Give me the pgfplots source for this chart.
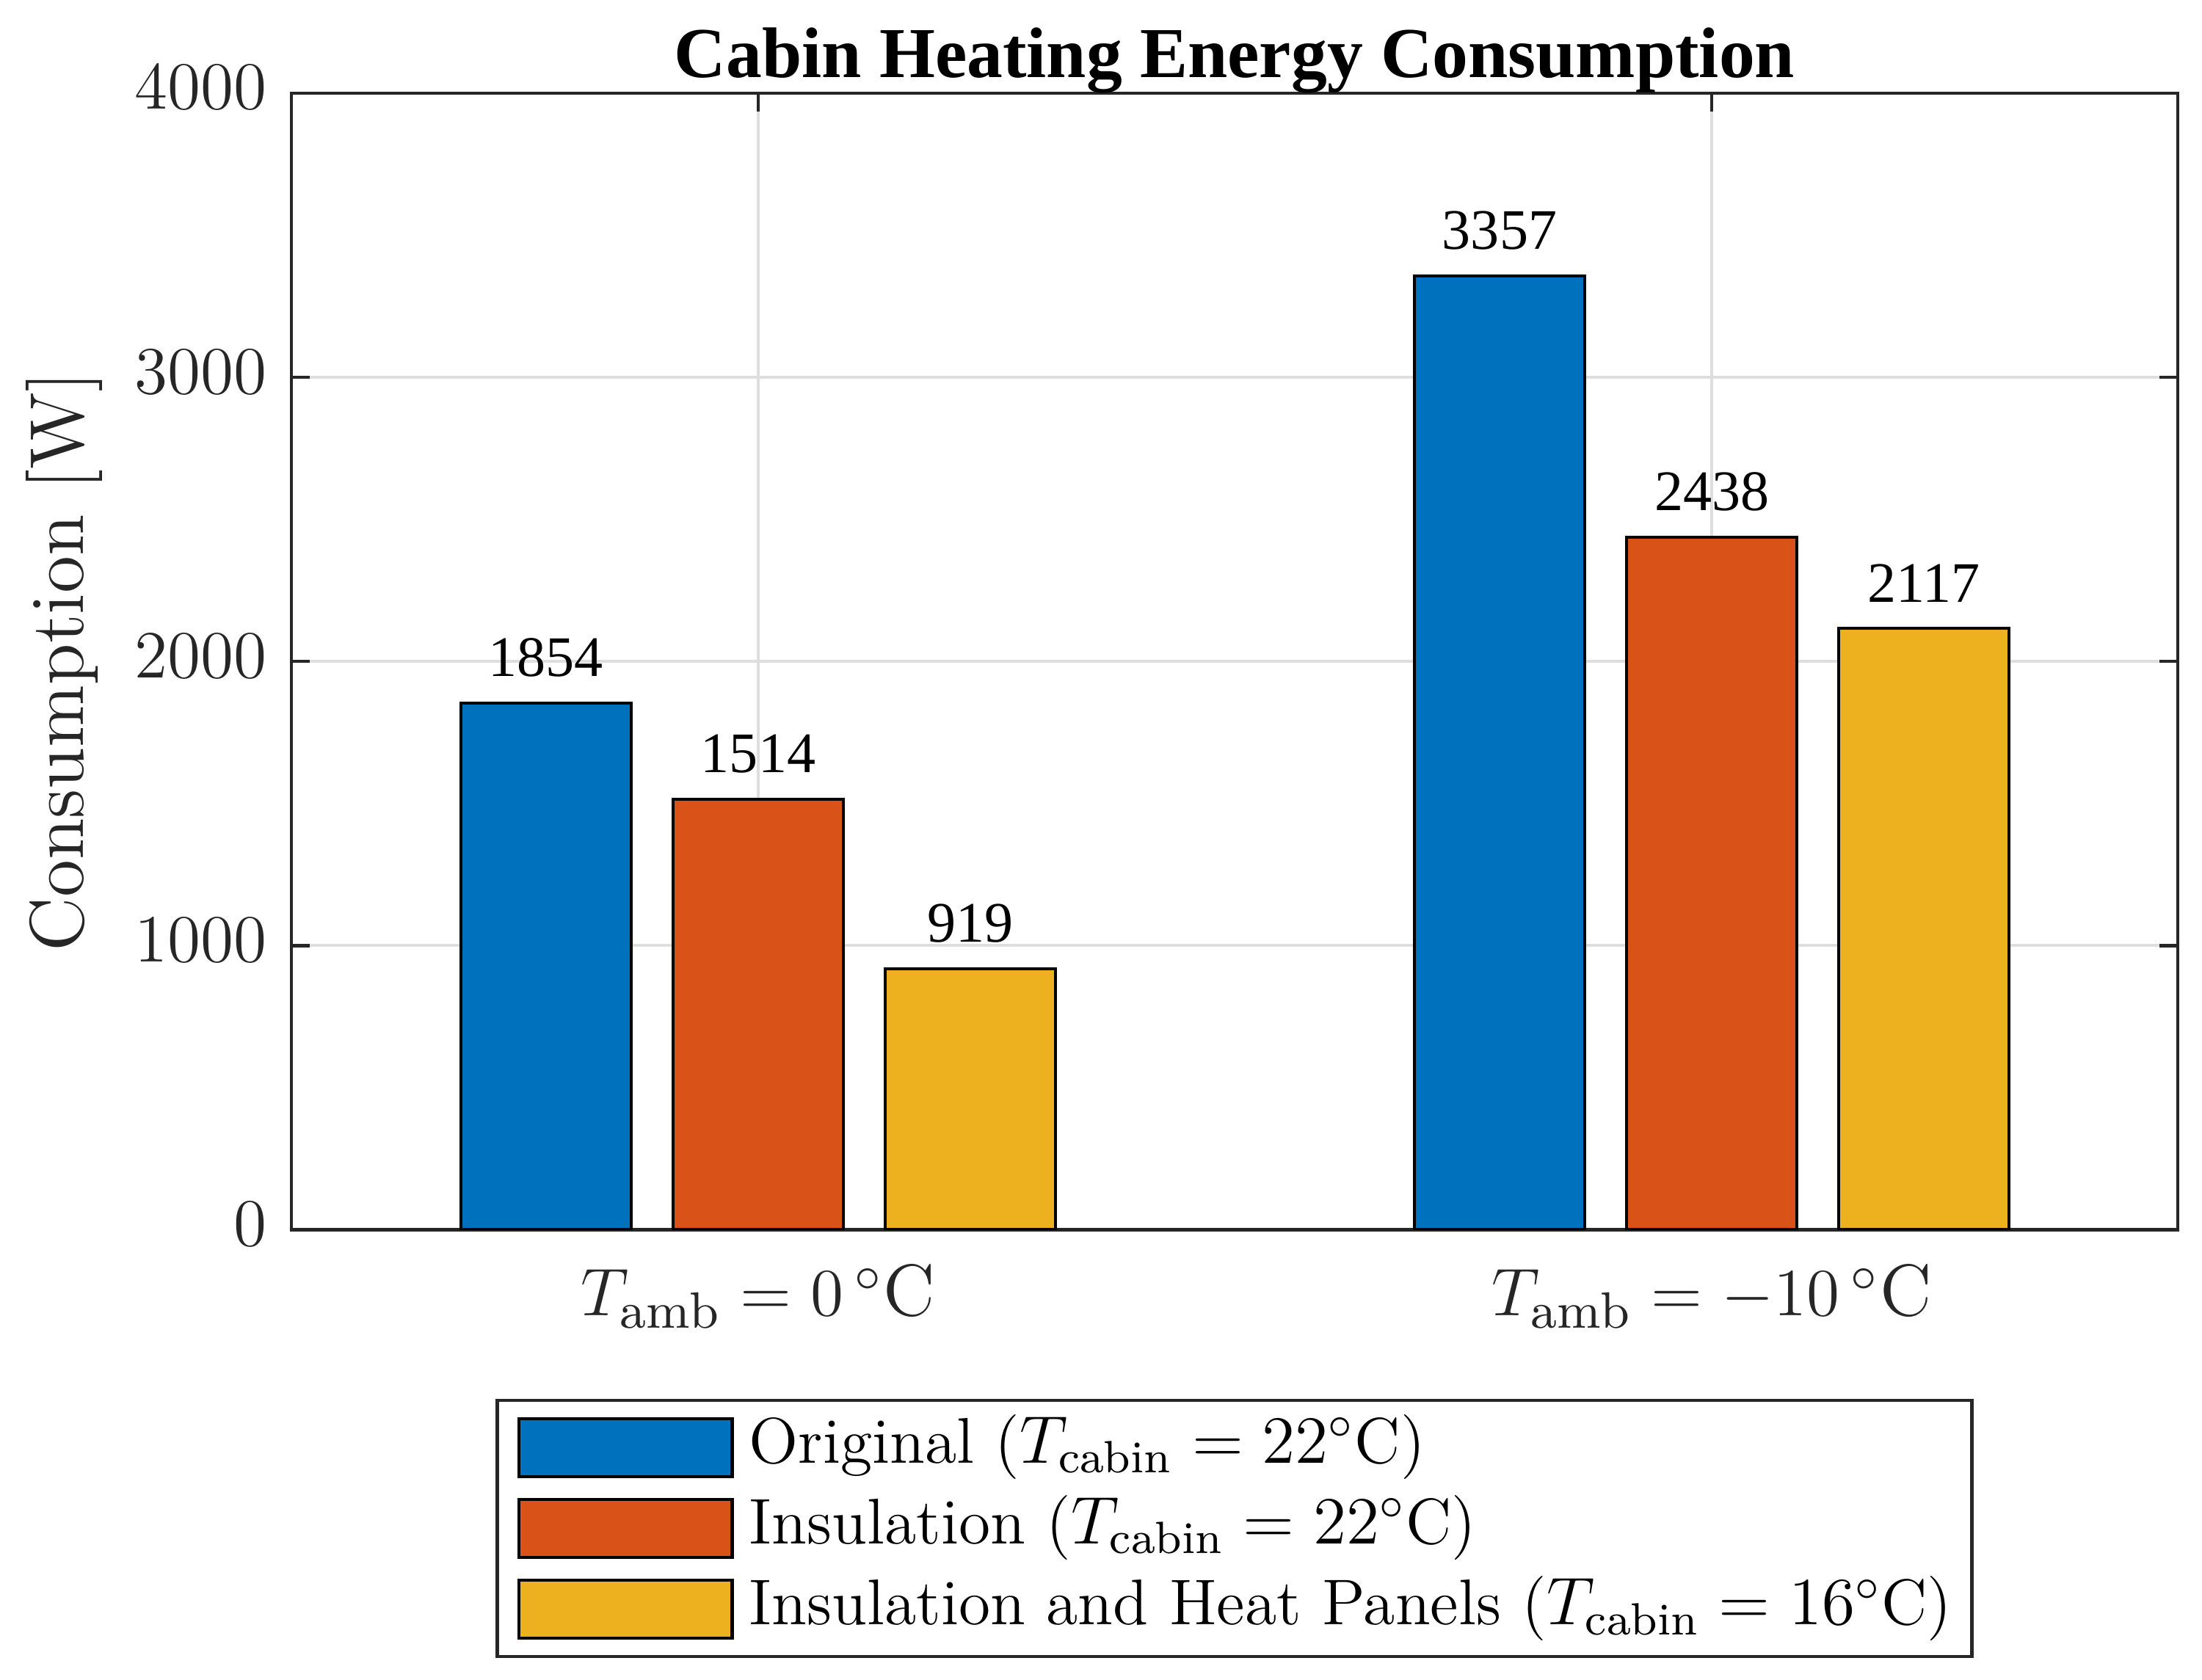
\documentclass[border=0pt]{standalone}
\usepackage{pgfplots}
\pgfplotsset{compat=1.18}
\usepackage{fontspec}
\newfontfamily\timesfont{Liberation Serif}
\definecolor{c1}{HTML}{0072BD}
\definecolor{c2}{HTML}{D95319}
\definecolor{c3}{HTML}{EDB120}
\definecolor{axc}{HTML}{262626}
\definecolor{gridc}{HTML}{DEDEDE}
\pgfplotsset{
  mybar/.style={ybar, bar width=0.1786, fill=#1, draw=black, line width=0.55pt,
    legend image code/.code={\path (-1.5pt,0) (39.25pt,0);\draw[##1] (0pt,-5.15pt) rectangle (38pt,5.15pt);}},
}
\begin{document}
\begin{tikzpicture}
\begin{axis}[
  name=ax,
  scale only axis,
  width=335.8pt, height=202.3pt,
  xmin=0.5104, xmax=2.4888,
  ymin=0, ymax=4000,
  ytick={0,1000,2000,3000,4000},
  xtick={1,2},
  xticklabels={{$T_{\mathrm{amb}}=0\,^{\circ}$C},{$T_{\mathrm{amb}}=-10\,^{\circ}$C}},
  scaled y ticks=false,
  /pgf/number format/1000 sep={},
  tick align=inside,
  tick pos=both,
  major tick length=3.3pt,
  grid=major,
  major grid style={gridc, line width=0.5pt},
  axis line style={axc, line width=0.6pt},
  every tick/.style={axc, line width=0.6pt},
  tick label style={axc, font=\fontsize{13}{15}\selectfont},
  xticklabel style={yshift=-2.6pt},
  yticklabel style={xshift=-0.8pt, yshift=1pt, font=\fontsize{13.2}{16}\selectfont},
  ylabel={Consumption [W]},
  every axis y label/.style={at={(axis description cs:-0.1205,0.5)}, rotate=90, anchor=center, axc, font=\fontsize{13.6}{16}\selectfont},
  title={Cabin Heating Energy Consumption},
  every axis title/.style={at={(axis description cs:0.5,1)}, anchor=base, yshift=2.8pt, black, font=\timesfont\bfseries\fontsize{12.75}{15}\selectfont},
  nodes near coords={\pgfmathprintnumber[assume math mode=true]{\pgfplotspointmeta}},
  nodes near coords style={font=\timesfont\fontsize{10.2}{12}\selectfont, black, anchor=south, inner sep=0pt, yshift=4.4pt},
  legend cell align=left,
  legend style={at={(axis description cs:0.5,-0.1488)}, anchor=north, draw=axc, line width=0.6pt,
    font=\fontsize{11.5}{13}\selectfont, inner xsep=2pt, inner ysep=1.2pt, row sep=0pt,
    nodes={inner sep=1.5pt, text height=8.4pt, text depth=3pt}},
]
\addplot[mybar=c1, bar shift=-0.2225, every node near coord/.append style={xshift=-37.77pt}] coordinates {(1,1854) (2,3357)};
\addplot[mybar=c2, bar shift=0] coordinates {(1,1514) (2,2438)};
\addplot[mybar=c3, bar shift=0.2225, every node near coord/.append style={xshift=37.77pt}] coordinates {(1,919) (2,2117)};
\legend{{Original ($T_{\mathrm{cabin}}=22^{\circ}$C)},{Insulation ($T_{\mathrm{cabin}}=22^{\circ}$C)},{Insulation and Heat Panels ($T_{\mathrm{cabin}}=16^{\circ}$C)}}
\end{axis}
\pgfresetboundingbox
\path ([shift={(-51.87pt,-80.1pt)}]ax.south west) rectangle ([shift={(4.31pt,16.6pt)}]ax.north east);
\end{tikzpicture}
\end{document}
